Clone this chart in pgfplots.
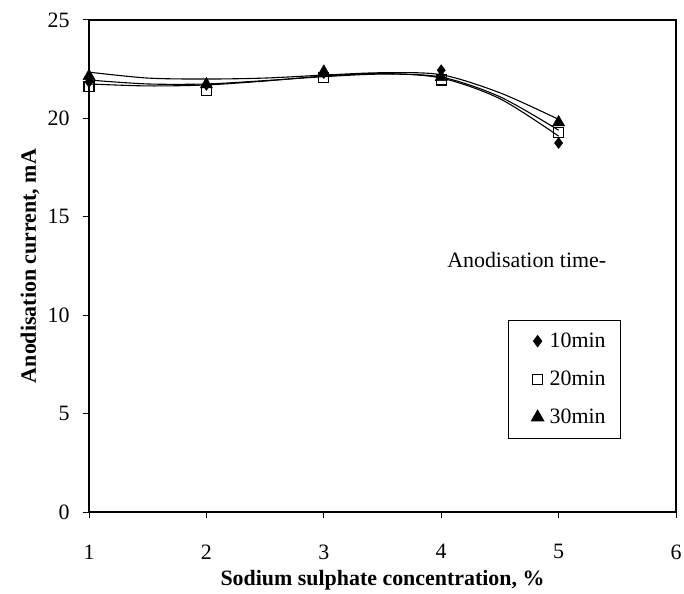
\documentclass[border=0pt]{standalone}
\usepackage{fontspec}
\setmainfont{Liberation Serif}
\usepackage{pgfplots}
\pgfplotsset{compat=1.18}
\begin{document}
\begin{tikzpicture}
\begin{axis}[
  scale only axis,
  width=587bp, height=492bp,
  xmin=1, xmax=6, ymin=0, ymax=25,
  xtick={1,2,3,4,5,6}, ytick={0,5,10,15,20,25},
  xtick pos=bottom, ytick pos=left,
  tick align=outside,
  major tick length=6bp,
  tick style={black, line width=1bp},
  axis line style={line width=1.2bp},
  /pgf/number format/assume math mode=true,
  ticklabel style={font=\fontsize{22}{26}\selectfont},
  xticklabel style={yshift=-23bp},
  yticklabel style={xshift=-10bp},
  xlabel={\textbf{Sodium sulphate concentration, \%}},
  ylabel={\textbf{Anodisation current, mA}},
  label style={font=\fontsize{22}{26}\selectfont},
  xlabel style={at={(axis description cs:0.5,-0.138)}, anchor=center},
  ylabel style={at={(axis description cs:-0.1005,0.5)}, anchor=center},
  legend style={at={(0.714,0.391)}, anchor=north west, draw=black, line width=1bp,
    font=\fontsize{22}{26}\selectfont, row sep=18bp, inner xsep=13bp, inner ysep=11bp},
  legend image code/.code={\path[draw=none,fill=none] (-6bp,0bp) -- (20bp,0bp); \path plot[only marks] coordinates {(10bp,0bp)};},
  legend cell align=left,
]
% trendlines
\addplot[black, line width=1.1bp, smooth, forget plot] coordinates {
 (1,21.75) (1.5,21.65) (2,21.7) (2.5,21.9) (3,22.15) (3.5,22.28) (4,22.05) (4.5,21.0) (5,19.1)};
\addplot[black, line width=1.1bp, smooth, forget plot] coordinates {
 (1,21.95) (1.5,21.75) (2,21.75) (2.5,21.92) (3,22.12) (3.5,22.25) (4,22.1) (4.5,21.1) (5,19.4)};
\addplot[black, line width=1.1bp, smooth, forget plot] coordinates {
 (1,22.35) (1.5,22.05) (2,22.0) (2.5,22.05) (3,22.2) (3.5,22.32) (4,22.22) (4.5,21.3) (5,19.95)};
% data points
\addplot[only marks, mark=diamond*, mark size=5.5bp, black] coordinates {
 (1,21.85) (2,21.7) (3,22.3) (4,22.45) (5,18.75)};
\addlegendentry{10min}
\addplot[only marks, mark=square, mark size=5bp, black, mark options={fill=white, line width=1.1bp}] coordinates {
 (1,21.6) (2,21.44) (3,22.07) (4,21.95) (5,19.29)};
\addlegendentry{20min}
\addplot[only marks, mark=triangle*, mark size=7bp, black] coordinates {
 (1,22.15) (2,21.73) (3,22.37) (4,22.1) (5,19.8)};
\addlegendentry{30min}
\node[anchor=west, inner sep=0pt, font=\fontsize{22}{26}\selectfont] at (axis cs:4.05,12.8) {Anodisation time-};
\end{axis}
\pgfresetboundingbox
\path[use as bounding box] ([xshift=-89bp,yshift=-81bp]current axis.south west) rectangle ([xshift=8bp,yshift=20bp]current axis.north east);
\end{tikzpicture}
\end{document}
